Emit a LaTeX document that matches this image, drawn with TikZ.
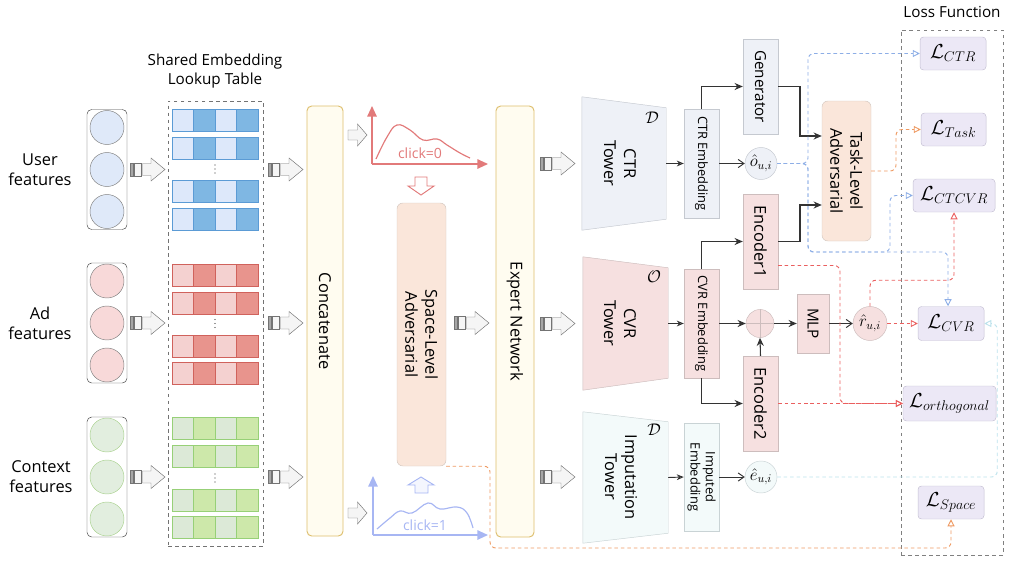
\documentclass[tikz,border=0pt]{standalone}
\usepackage{fontspec}
\setmainfont{Open Sans}
\usetikzlibrary{arrows.meta,backgrounds,calc}

\newcommand\pxu{0.03cm}

\definecolor{userfill}{HTML}{DFE9F9}
\definecolor{adfill}{HTML}{F8D9D9}
\definecolor{ctxfill}{HTML}{E2EEDF}
\definecolor{ctxline}{HTML}{A9D18E}
\definecolor{bluelight}{HTML}{DDE8FA}
\definecolor{bluedark}{HTML}{7FB7E3}
\definecolor{blueline}{HTML}{5B9BD5}
\definecolor{redlight}{HTML}{F4D1D0}
\definecolor{reddark}{HTML}{E8948D}
\definecolor{redline}{HTML}{D0625C}
\definecolor{greenlight}{HTML}{DCE9D7}
\definecolor{greendark}{HTML}{CDE8AA}
\definecolor{greenline}{HTML}{97D077}
\definecolor{yellowfill}{HTML}{FFFCF0}
\definecolor{yellowline}{HTML}{DDBE6C}
\definecolor{peachfill}{HTML}{FAE6DA}
\definecolor{peachline}{HTML}{D5C9C1}
\definecolor{ctrfill}{HTML}{EEF1F7}
\definecolor{ctrline}{HTML}{C5C9D0}
\definecolor{cvrfill}{HTML}{F6E0E0}
\definecolor{cvrline}{HTML}{CDBDBD}
\definecolor{impfill}{HTML}{F3FAFA}
\definecolor{impline}{HTML}{C9D3D5}
\definecolor{lossfill}{HTML}{ECE8F6}
\definecolor{lossline}{HTML}{C3BED2}
\definecolor{plotred}{HTML}{E27A7A}
\definecolor{plotblue}{HTML}{A7B6F3}
\definecolor{dblue}{HTML}{8DAEE6}
\definecolor{dorange}{HTML}{EE9A62}
\definecolor{dred}{HTML}{EA5F5F}
\definecolor{dcyan}{HTML}{BCE2EC}

\tikzset{
  every node/.style={font=\fontsize{14}{17}\selectfont},
  sz/.style 2 args={minimum width=#1*\pxu, minimum height=#2*\pxu, inner sep=0pt},
  featbox/.style={draw=black!75, rounded corners=4pt},
  ybox/.style={draw=yellowline, fill=yellowfill, rounded corners=4pt, line width=0.8pt},
  peachbox/.style={draw=peachline, fill=peachfill, rounded corners=5pt},
  ctrbox/.style={draw=ctrline, fill=ctrfill},
  cvrbox/.style={draw=cvrline, fill=cvrfill},
  impbox/.style={draw=impline, fill=impfill},
  lossnode/.style={draw=lossline, fill=lossfill, rounded corners=3pt, font=\fontsize{17}{20}\selectfont},
  vtext/.style={rotate=-90, align=center},
  embtext/.style={rotate=-90, align=center, font=\fontsize{11}{13}\selectfont},
  conn/.style={draw=black!80, line width=0.9pt, -{Stealth[length=7pt,width=6pt]}},
  barb/.style={draw=black!80, line width=0.8pt, -{Straight Barb[length=5pt,width=7pt]}},
  openarr/.style={draw=black!80, line width=0.8pt, -{Stealth[open,length=6pt,width=5pt]}},
  dline/.style={line width=0.8pt, dash pattern=on 3pt off 2.5pt, rounded corners=5pt,
    -{Triangle[open,length=6pt,width=6pt]}},
  dblarrow/.pic={
    \draw[draw=black!55, fill=black!35] (0,-6.5) rectangle (3.5,6.5);
    \draw[draw=black!55, fill=black!4] (4.5,-6.5) rectangle (11.5,6.5);
    \draw[draw=black!55, fill=black!4] (12.5,-6) -- (21,-6) -- (21,-11.5) -- (35,0)
      -- (21,11.5) -- (21,6) -- (12.5,6) -- cycle;
  },
  hollowarrow/.pic={
    \draw[draw=black!55, fill=black!4] (0,-5) -- (9.5,-5) -- (9.5,-11) -- (19,0)
      -- (9.5,11) -- (9.5,5) -- (0,5) -- cycle;
  }
}

\begin{document}
\begin{tikzpicture}[x=\pxu, y=-\pxu]
  \useasboundingbox (0,0) rectangle (1018,560);

  % feature columns
  \foreach \nm/\yc/\cf/\cs in {user/169.5/userfill/black!50, ad/323/adfill/black!50, context/477/ctxfill/ctxline} {
    \node[featbox, sz={40}{120}] (\nm) at (107,\yc) {};
    \foreach \d in {-42,0,42}
      \draw[draw=\cs, fill=\cf] (107,\yc+\d) circle[radius=17*\pxu];
  }
  \node[align=center] (userlbl) at (40,170) {User\\features};
  \node[align=center] (adlbl) at (40,323) {Ad\\features};
  \node[align=center] (ctxlbl) at (41,477) {Context\\features};

  % shared lookup table
  \node[draw=black!55, dashed, sz={95}{445}] (lookup) at (215.5,323.5) {};
  \node[align=center, font=\fontsize{13}{17}\selectfont] (lookuptitle) at (215,71) {Shared Embedding\\Lookup Table};
  \foreach \yr/\cl/\cd/\cs in {109/bluelight/bluedark/blueline, 137/bluelight/bluedark/blueline,
      180/bluelight/bluedark/blueline, 208/bluelight/bluedark/blueline,
      264/redlight/reddark/redline, 292/redlight/reddark/redline,
      335/redlight/reddark/redline, 362/redlight/reddark/redline,
      417/greenlight/greendark/greenline, 445/greenlight/greendark/greenline,
      489/greenlight/greendark/greenline, 516/greenlight/greendark/greenline} {
    \draw[draw=\cs, fill=\cl] (172,\yr) rectangle ++(86,22);
    \foreach \i in {1,3}
      \draw[draw=\cs, fill=\cd] (172+\i*21.5,\yr) rectangle ++(21.5,22);
  }
  \foreach \yc in {169,323.5,478}
    \foreach \d in {-4,0,4}
      \fill[black!80] (215,\yc+\d) circle[radius=0.6pt];

  % block arrows
  \foreach \yc in {169.5,323,477} {
    \pic at (130,\yc) {dblarrow};
    \pic at (268,\yc) {dblarrow};
  }
  \foreach \yc in {163.5,323.5,477}
    \pic at (540,\yc) {dblarrow};
  \pic at (454,323) {dblarrow};
  \pic at (348,135) {hollowarrow};
  \pic at (348,513) {hollowarrow};

  % concatenate, space-level adversarial, expert network
  \node[ybox, sz={36}{430}] (concat) at (325,321) {};
  \node[vtext] (concatlbl) at (concat) {Concatenate};
  \node[peachbox, sz={49}{263}] (spaceadv) at (421.5,334.5) {};
  \node[vtext] (spaceadvlbl) at (spaceadv) {Space-Level\\Adversarial};
  \node[ybox, sz={38}{431}] (expert) at (515,321.5) {};
  \node[vtext] (expertlbl) at (expert) {Expert Network};

  % click distributions
  \draw[plotred, line width=1.2pt, -{Triangle[length=9pt,width=8pt]}] (372,164) -- (372,106);
  \draw[plotred, line width=1.2pt, -{Triangle[length=9pt,width=8pt]}] (372,164) -- (488,164);
  \draw[plotred, line width=1pt] plot[smooth, tension=0.7] coordinates
    {(376,159) (387,137) (397,125) (410,130) (423,140) (437,139) (447,145) (460,153) (470,158)};
  \node[text=plotred, font=\fontsize{12}{14}\selectfont] (click0) at (420,153) {click=0};
  \draw[plotred, fill=white, line width=0.8pt] (415,177) -- (427,177) -- (427,186) -- (434,186)
    -- (421,195) -- (408,186) -- (415,186) -- cycle;

  \draw[plotblue, line width=1.2pt, -{Triangle[length=9pt,width=8pt]}] (373,535) -- (373,476);
  \draw[plotblue, line width=1.2pt, -{Triangle[length=9pt,width=8pt]}] (373,535) -- (488,535);
  \draw[plotblue, line width=1pt] plot[smooth, tension=0.7] coordinates
    {(377,529) (390,518) (400,511) (412,513) (428,503) (440,509) (457,507) (467,513) (473,528)};
  \node[text=plotblue, font=\fontsize{12}{14}\selectfont] (click1) at (425,525) {click=1};
  \draw[plotblue, fill=plotblue!12, line width=0.8pt] (415,493) -- (428,493) -- (428,485) -- (434,485)
    -- (421,477) -- (408,485) -- (415,485) -- cycle;

  % towers
  \node[sz={84}{133}] (ctrtower) at (624,163.5) {};
  \node[sz={85}{133}] (cvrtower) at (625.5,323.5) {};
  \node[sz={85}{131}] (imptower) at (625.5,477.5) {};
  \begin{scope}[on background layer]
    \draw[ctrbox] (ctrtower.north west) -- ([yshift=-11*\pxu]ctrtower.north east)
      -- ([yshift=11*\pxu]ctrtower.south east) -- (ctrtower.south west) -- cycle;
    \draw[cvrbox] (cvrtower.north west) -- ([yshift=-11*\pxu]cvrtower.north east)
      -- ([yshift=12*\pxu]cvrtower.south east) -- (cvrtower.south west) -- cycle;
    \draw[impbox] (imptower.north west) -- ([yshift=-10*\pxu]imptower.north east)
      -- ([yshift=10*\pxu]imptower.south east) -- (imptower.south west) -- cycle;
  \end{scope}
  \node[vtext] (ctrtowerlbl) at (620,163.5) {CTR\\Tower};
  \node[vtext] (cvrtowerlbl) at (620,323.5) {CVR\\Tower};
  \node[vtext] (imptowerlbl) at (621,477) {Imputation\\Tower};
  \node (ctrsym) at (652,118) {$\mathcal{D}$};
  \node (cvrsym) at (654,277) {$\mathcal{O}$};
  \node (impsym) at (654,430) {$\mathcal{D}$};

  % embeddings
  \node[ctrbox, sz={35}{109}] (ctremb) at (701.5,163.5) {};
  \node[embtext] (ctremblbl) at (ctremb) {CTR Embedding};
  \node[cvrbox, sz={35}{109}] (cvremb) at (701.5,323.5) {};
  \node[embtext] (cvremblbl) at (cvremb) {CVR Embedding};
  \node[impbox, sz={35}{108}] (impemb) at (701.5,477) {};
  \node[embtext] (impemblbl) at (impemb) {Imputed\\Embedding};

  % generator, encoders, mlp
  \node[ctrbox, sz={35}{95}] (gen) at (760.5,86.5) {};
  \node[vtext, font=\fontsize{13}{16}\selectfont] (genlbl) at (gen) {Generator};
  \node[cvrbox, sz={35}{95}] (enc1) at (760.5,241.5) {};
  \node[vtext] (enc1lbl) at (enc1) {Encoder1};
  \node[cvrbox, sz={35}{95}] (enc2) at (760.5,403.5) {};
  \node[vtext] (enc2lbl) at (enc2) {Encoder2};
  \node[cvrbox, sz={32}{59}] (mlp) at (813,323.5) {};
  \node[vtext, font=\fontsize{13}{16}\selectfont] (mlplbl) at (mlp) {MLP};
  \node[circle, cvrbox, minimum size=28*\pxu, inner sep=0pt] (oplus) at (760,323.5) {};
  \draw[cvrline] (oplus.north) -- (oplus.south) (oplus.west) -- (oplus.east);

  % predictions
  \node[circle, ctrbox, minimum size=32*\pxu, inner sep=0pt] (ohat) at (761,163.5) {$\hat{o}_{u,i}$};
  \node[circle, cvrbox, minimum size=34*\pxu, inner sep=0pt] (rhat) at (870,323.5) {$\hat{r}_{u,i}$};
  \node[circle, impbox, minimum size=32*\pxu, inner sep=0pt] (ehat) at (761,477) {$\hat{e}_{u,i}$};

  % task-level adversarial
  \node[peachbox, sz={49}{140}] (taskadv) at (846.5,171) {};
  \node[vtext] (taskadvlbl) at (taskadv) {Task-Level\\Adversarial};

  % loss functions
  \node[draw=black!50, dashed, sz={102}{525}] (lossbox) at (952,292.5) {};
  \node[font=\fontsize{13}{16}\selectfont] (losstitle) at (952,12) {Loss Function};
  \node[lossnode, sz={66}{33}] (lctr) at (953,53.5) {$\mathcal{L}_{CTR}$};
  \node[lossnode, sz={65}{33}] (ltask) at (953.5,129.5) {$\mathcal{L}_{Task}$};
  \node[lossnode, sz={82}{33}] (lctcvr) at (954,195.5) {$\mathcal{L}_{CTCVR}$};
  \node[lossnode, sz={66}{34}] (lcvr) at (951,323.5) {$\mathcal{L}_{CVR}$};
  \node[lossnode, sz={93}{35}] (lorth) at (949.5,403.5) {$\mathcal{L}_{orthogonal}$};
  \node[lossnode, sz={66}{33}] (lspace) at (951,502.5) {$\mathcal{L}_{Space}$};

  % solid connections
  \draw[openarr] (ctrtower.east) -- (ctremb.west);
  \draw[openarr] (cvrtower.east) -- (cvremb.west);
  \draw[openarr] (imptower.east) -- (impemb.west);
  \draw[conn] (ctremb.north) |- (gen.west);
  \draw[conn] (gen.east) -| ($(gen.east)!0.5!(taskadv.west)$) |- ([yshift=35*\pxu]taskadv.west);
  \draw[conn] (enc1.east) -| ($(enc1.east)!0.5!(taskadv.west)$) |- ([yshift=-34*\pxu]taskadv.west);
  \draw[barb] (ctremb.east) -- (ohat.west);
  \draw[conn] (cvremb.north) |- (enc1.west);
  \draw[conn] (cvremb.south) |- (enc2.west);
  \draw[conn] (cvremb.east) -- (oplus.west);
  \draw[conn] (oplus.east) -- (mlp.west);
  \draw[conn] (enc2.north) -- (oplus.south);
  \draw[barb] (mlp.east) -- (rhat.west);
  \draw[barb] (impemb.east) -- (ehat.west);

  % dashed connections to the losses
  \coordinate (obus) at (808,252);
  \coordinate (cbus) at (890,252);
  \coordinate (ebus) at (840,403.5);
  \coordinate (sbus) at (490,548);
  \draw[dline, dblue] (ohat.east) -| (obus |- lctr.west) -- (lctr.west);
  \draw[dline, dblue] (ohat.east) -| (obus) -- (cbus) |- (lctcvr.west);
  \draw[dline, dblue] (ohat.east) -| (obus) -| ([xshift=-3*\pxu]lcvr.north);
  \draw[dline, dorange] (taskadv.east) -| ($(taskadv.east)!0.5!(ltask.west)$) |- (ltask.west);
  \draw[dline, dred] ([yshift=-24*\pxu]enc1.east) -| (ebus) -- (lorth.west);
  \draw[dline, dred] (enc2.east) -- (lorth.west);
  \draw[dline, dred] (rhat.east) -- (lcvr.west);
  \draw[dline, dred] (rhat.north) |- ($(lctcvr.south)+(0,68)$) -- (lctcvr.south);
  \draw[dline, dcyan] (ehat.east) -| ($(lcvr.east)+(13,0)$) -- (lcvr.east);
  \draw[dline, dorange] (spaceadv.south east) -| (sbus) -| (lspace.south);
\end{tikzpicture}
\end{document}
